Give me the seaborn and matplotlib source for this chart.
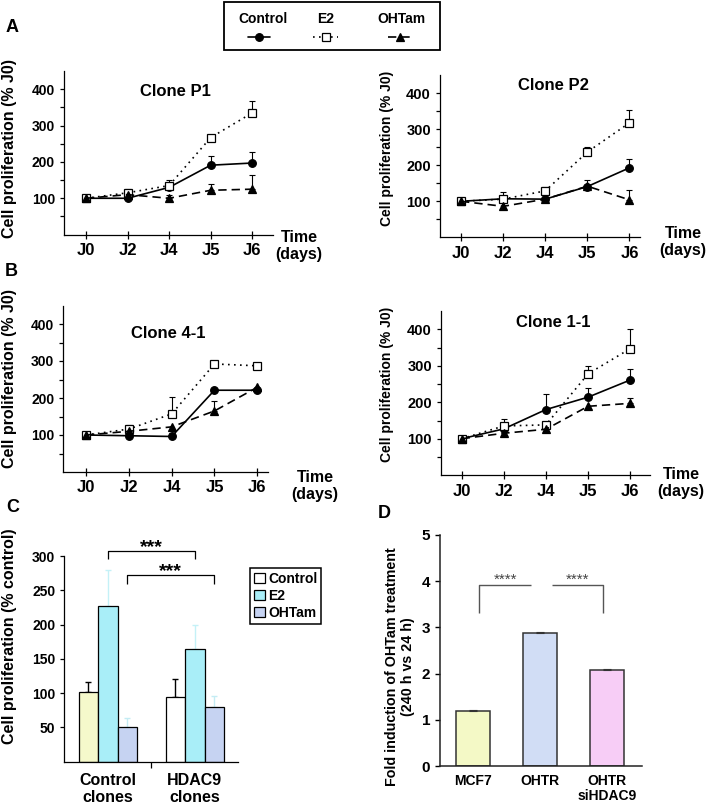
import numpy as np
import pandas as pd
import matplotlib
matplotlib.use("Agg")
import matplotlib.pyplot as plt
from matplotlib.patches import Patch, Rectangle
from matplotlib.lines import Line2D
import seaborn as sns

# ---------------- data ----------------
days = ["J0", "J2", "J4", "J5", "J6"]
series_names = ["Control", "E2", "OHTam"]

p1_control = [100, 100, 130, 191, 197]
p1_control_err = [0, 0, 0, 25, 30]
p1_e2 = [100, 115, 135, 267, 335]
p1_e2_err = [0, 10, 14, 0, 33]
p1_ohtam = [100, 110, 100, 122, 125]
p1_ohtam_err = [0, 0, 10, 18, 38]

p2_control = [100, 107, 106, 141, 193]
p2_control_err = [0, 0, 0, 18, 25]
p2_e2 = [100, 106, 129, 237, 318]
p2_e2_err = [0, 20, 11, 13, 35]
p2_ohtam = [100, 86, 106, 142, 104]
p2_ohtam_err = [0, 0, 0, 0, 27]

c41_control = [100, 98, 96, 221, 221]
c41_control_err = [0, 0, 10, 0, 0]
c41_e2 = [100, 116, 157, 292, 287]
c41_e2_err = [0, 10, 47, 0, 0]
c41_ohtam = [100, 110, 122, 165, 229]
c41_ohtam_err = [0, 0, 0, 27, 0]

c11_control = [100, 127, 180, 214, 261]
c11_control_err = [0, 0, 44, 24, 30]
c11_e2 = [100, 135, 138, 278, 347]
c11_e2_err = [0, 20, 0, 21, 55]
c11_ohtam = [100, 115, 126, 189, 197]
c11_ohtam_err = [0, 0, 0, 0, 15]

line_yticks = [50, 100, 150, 200, 250, 300, 350, 400]
line_yticklabels = ["", "100", "", "200", "", "300", "", "400"]

c_groups = ["Control\nclones", "HDAC9\nclones"]
c_treatments = ["Control", "E2", "OHTam"]
c_control_clones = [101, 227, 51]
c_control_clones_err = [15, 53, 12]
c_hdac9_clones = [94, 164, 79]
c_hdac9_clones_err = [26, 36, 17]
c_yticks = [50, 100, 150, 200, 250, 300]

d_cells = ["MCF7", "OHTR", "OHTR\nsiHDAC9"]
d_values = [1.2, 2.88, 2.08]
d_err = [0.01, 0.01, 0.02]
d_yticks = [0, 1, 2, 3, 4, 5]

# ---------------- style ----------------
sns.set_style("ticks")
plt.rcParams["font.family"] = ["Liberation Sans", "DejaVu Sans"]
plt.rcParams["font.weight"] = "bold"
plt.rcParams["axes.labelweight"] = "bold"
for key in ("text.color", "axes.labelcolor", "xtick.color", "ytick.color",
            "axes.edgecolor"):
    plt.rcParams[key] = "black"

W, H = 709, 811
fig = plt.figure(figsize=(W / 100, H / 100), dpi=100)


def ax_at(x0, y0, x1, y1):
    return fig.add_axes([x0 / W, 1 - y1 / H, (x1 - x0) / W, (y1 - y0) / H])


def ftext(x, y, s, **kw):
    fig.text(x / W, 1 - y / H, s, **kw)


styles = {
    "Control": dict(marker="o", linestyle="-", markerfacecolor="black", markersize=5.5),
    "E2": dict(marker="s", linestyle=(0, (1, 2.6)), markerfacecolor="white", markersize=5.5),
    "OHTam": dict(marker="^", linestyle=(0, (5, 3)), markerfacecolor="black", markersize=5.5),
}


def line_panel(box, xlim, title, title_xy, time_xy, ylab_x, ylab_y, ylab_size, tick_size,
               data):
    ax = ax_at(*box)
    for name, vals, errs in data:
        df = pd.DataFrame({"day": days, "value": vals})
        sns.lineplot(data=df, x="day", y="value", ax=ax, color="black", sort=False,
                     linewidth=1.2, markeredgecolor="black", markeredgewidth=0.9,
                     **styles[name])
        errs = np.asarray(errs)
        mask = errs > 0
        if mask.any():
            ax.errorbar(np.array(days)[mask], np.asarray(vals)[mask],
                        yerr=[np.zeros(mask.sum()), errs[mask]], fmt="none",
                        ecolor="black", elinewidth=0.8, capsize=2, capthick=0.8,
                        zorder=1)
    ax.set_ylim(0, 450)
    ax.set_xlim(*xlim)
    ax.set_yticks(line_yticks)
    ax.set_yticklabels(line_yticklabels, fontsize=tick_size, fontweight="bold")
    ax.tick_params(axis="y", length=3, width=0.9, pad=3.5)
    ax.tick_params(axis="x", direction="inout", length=6, width=0.9, pad=3,
                   labelsize=12)
    for lab in ax.get_xticklabels():
        lab.set_fontweight("bold")
    ax.set_xlabel("")
    ax.set_ylabel("")
    sns.despine(ax=ax)
    for sp in ("left", "bottom"):
        ax.spines[sp].set_linewidth(0.9)
    ax.set_facecolor("none")
    ftext(*title_xy, title, ha="center", va="center", fontsize=12, fontweight="bold")
    ftext(*time_xy, "Time\n(days)", ha="center", va="center", fontsize=11.5,
          fontweight="bold", linespacing=1.15)
    ftext(ylab_x, ylab_y, "Cell proliferation (% J0)", rotation=90, ha="center",
          va="center", fontsize=ylab_size, fontweight="bold")
    return ax


line_panel((64, 71.1, 273, 234.6), (-0.53, 4.5), "Clone P1", (175, 91), (299, 246),
           10, 148, 11.5, 10,
           [("Control", p1_control, p1_control_err), ("E2", p1_e2, p1_e2_err),
            ("OHTam", p1_ohtam, p1_ohtam_err)])
line_panel((440, 75.3, 640, 237.3), (-0.5, 4.25), "Clone P2", (553, 85), (683, 242),
           387, 148, 10, 10.5,
           [("Control", p2_control, p2_control_err), ("E2", p2_e2, p2_e2_err),
            ("OHTam", p2_ohtam, p2_ohtam_err)])
line_panel((63.3, 305.5, 268, 472), (-0.53, 4.25), "Clone 4-1", (168, 333), (315, 486),
           10, 379, 11.5, 10,
           [("Control", c41_control, c41_control_err), ("E2", c41_e2, c41_e2_err),
            ("OHTam", c41_ohtam, c41_ohtam_err)])
line_panel((441, 311.1, 650, 475.2), (-0.49, 4.47), "Clone 1-1", (553, 323), (681, 483),
           387, 384, 10, 10.5,
           [("Control", c11_control, c11_control_err), ("E2", c11_e2, c11_e2_err),
            ("OHTam", c11_ohtam, c11_ohtam_err)])

# ---------------- panel C ----------------
axc = ax_at(64.3, 556, 238.3, 761.6)
c_df = pd.DataFrame({
    "group": np.repeat(c_groups, len(c_treatments)),
    "treatment": c_treatments * len(c_groups),
    "value": c_control_clones + c_hdac9_clones,
})
c_errs = {(c_groups[0], t): e for t, e in zip(c_treatments, c_control_clones_err)}
c_errs.update({(c_groups[1], t): e for t, e in zip(c_treatments, c_hdac9_clones_err)})
c_palette = {"Control": "#ffffff", "E2": "#a9eef8", "OHTam": "#c6d3f2"}
sns.barplot(data=c_df, x="group", y="value", hue="treatment", hue_order=c_treatments,
            order=c_groups, palette=c_palette, width=0.67, gap=0, edgecolor="black",
            linewidth=0.9, errorbar=None, legend=False, ax=axc, saturation=1)
# first control bar tinted pale yellow as in the figure
axc.containers[0][0].set_facecolor("#f5f9cb")
err_colors = {"Control": "black", "E2": "#c4f1f7", "OHTam": "#c4ecf4"}
centers = {}
for t, cont in zip(c_treatments, axc.containers):
    for g, bar in zip(c_groups, cont):
        xc = bar.get_x() + bar.get_width() / 2
        yv = bar.get_height()
        centers[(g, t)] = xc
        axc.errorbar([xc], [yv], yerr=[[0], [c_errs[(g, t)]]], fmt="none",
                     ecolor=err_colors[t], elinewidth=1.0, capsize=2.5, capthick=1.0,
                     zorder=0)
axc.set_ylim(0, 300)
axc.set_xlim(-0.5, 1.5)
axc.set_yticks(c_yticks)
axc.set_yticklabels([str(v) for v in c_yticks], fontsize=10, fontweight="bold")
axc.tick_params(axis="y", length=3, width=0.9, pad=3.5)
axc.set_xticks([0, 1])
axc.set_xticklabels(c_groups, fontsize=11.5, fontweight="bold", linespacing=1.15)
axc.tick_params(axis="x", length=0, pad=8)
axc.set_xticks([0.5], minor=True)
axc.tick_params(axis="x", which="minor", length=4, width=0.9)
axc.set_xlabel("")
axc.set_ylabel("")
sns.despine(ax=axc)
for sp in ("left", "bottom"):
    axc.spines[sp].set_linewidth(0.9)


def bracket(ax, x0, x1, ytop, y0left, y0right, color, lw):
    ax.plot([x0, x0, x1, x1], [y0left, ytop, ytop, y0right], color=color, lw=lw,
            clip_on=False, solid_capstyle="butt")


b1 = (centers[(c_groups[0], "E2")], centers[(c_groups[1], "E2")])
b2 = (centers[(c_groups[0], "OHTam")], centers[(c_groups[1], "OHTam")])
bracket(axc, b1[0], b1[1], 306.7, 296, 296, "black", 0.9)
bracket(axc, b2[0], b2[1], 271.7, 259.6, 259.6, "black", 0.9)
axc.text(sum(b1) / 2, 305.5, "***", ha="center", va="baseline", fontsize=14,
         fontweight="bold", clip_on=False)
axc.text(sum(b2) / 2, 270.5, "***", ha="center", va="baseline", fontsize=14,
         fontweight="bold", clip_on=False)
c_handles = [Patch(facecolor=c_palette[t], edgecolor="black", linewidth=0.9)
             for t in c_treatments]
leg = axc.legend(c_handles, c_treatments, loc="upper left",
                 bbox_to_anchor=(250 / W, 1 - 568 / H), bbox_transform=fig.transFigure,
                 frameon=True, fancybox=False, framealpha=1, edgecolor="black",
                 prop={"size": 10, "weight": "bold"}, handlelength=0.75,
                 handleheight=0.75, handletextpad=0.25, borderpad=0.3,
                 labelspacing=0.2, borderaxespad=0)
leg.get_frame().set_linewidth(1.1)
ftext(10, 636, "Cell proliferation (% control)", rotation=90, ha="center",
      va="center", fontsize=11.5, fontweight="bold")

# ---------------- panel D ----------------
axd = ax_at(440, 535, 641.7, 766)
d_df = pd.DataFrame({"cell": d_cells, "value": d_values})
d_palette = {"MCF7": "#f4f9c6", "OHTR": "#d1ddf5", "OHTR\nsiHDAC9": "#f7cdf6"}
sns.barplot(data=d_df, x="cell", y="value", hue="cell", palette=d_palette,
            order=d_cells, width=0.51, edgecolor="#333333", linewidth=1.1,
            errorbar=None, legend=False, ax=axd, saturation=1)
d_centers = []
for cont in axd.containers:
    for bar in cont:
        d_centers.append(bar.get_x() + bar.get_width() / 2)
d_centers = sorted(d_centers)
axd.errorbar(d_centers, d_values, yerr=[np.zeros(len(d_err)), d_err], fmt="none",
             ecolor="#333333", elinewidth=0.8, capsize=3, capthick=0.8)
axd.set_ylim(0, 5)
axd.set_xlim(-0.5, 2.52)
axd.set_yticks(d_yticks)
axd.set_yticklabels([str(v) for v in d_yticks], fontsize=11, fontweight="bold")
axd.tick_params(axis="y", length=3.5, width=1.0, pad=3.5)
axd.set_xticks(range(len(d_cells)))
axd.set_xticklabels(d_cells, fontsize=10, fontweight="bold", linespacing=1.1)
axd.tick_params(axis="x", length=0, pad=6)
axd.set_xlabel("")
axd.set_ylabel("")
sns.despine(ax=axd)
for sp in ("left", "bottom"):
    axd.spines[sp].set_linewidth(1.1)
    axd.spines[sp].set_color("#222222")
gray = "#555555"
bracket(axd, d_centers[0] + 0.08, d_centers[1] - 0.13, 3.92, 3.32, 3.92, gray, 1.0)
bracket(axd, d_centers[1] + 0.17, d_centers[2] - 0.06, 3.92, 3.92, 3.32, gray, 1.0)
axd.text((d_centers[0] + 0.08 + d_centers[1] - 0.13) / 2, 3.95, "****", ha="center",
         va="baseline", fontsize=11, color="#444444", fontweight="normal")
axd.text((d_centers[1] + 0.17 + d_centers[2] - 0.06) / 2, 3.95, "****", ha="center",
         va="baseline", fontsize=11, color="#444444", fontweight="normal")
ftext(400, 667, "Fold induction of OHTam treatment\n(240 h vs 24 h)", rotation=90,
      ha="center", va="center", fontsize=10.3, fontweight="bold", linespacing=1.15)

# ---------------- panel letters ----------------
for letter, (lx, ly) in {"A": (6, 28), "B": (5, 272), "C": (6, 508),
                         "D": (378, 513)}.items():
    ftext(lx, ly, letter, ha="left", va="center", fontsize=13, fontweight="bold")

# ---------------- top legend ----------------
ov = fig.add_axes([0, 0, 1, 1])
ov.set_xlim(0, W)
ov.set_ylim(H, 0)
ov.axis("off")
ov.add_patch(Rectangle((224, 2), 216, 48, fill=False, edgecolor="black", lw=1.3))
leg_items = [("Control", 262.7, 247.7, 270), ("E2", 326, 313, 338),
             ("OHTam", 401.7, 388, 412)]
for name, tx, lx0, lx1 in leg_items:
    ov.text(tx, 19, name, ha="center", va="center", fontsize=10, fontweight="bold")
    st = styles[name]
    ov.add_line(Line2D([lx0, lx1], [36.7, 36.7], color="black", lw=1.2,
                       linestyle=st["linestyle"]))
    ov.add_line(Line2D([(lx0 + lx1) / 2], [36.7], color="black", marker=st["marker"],
                       markerfacecolor=st["markerfacecolor"], markeredgecolor="black",
                       markersize=5.5, markeredgewidth=0.9, linestyle="none"))

fig.savefig("out.png", dpi=100)
